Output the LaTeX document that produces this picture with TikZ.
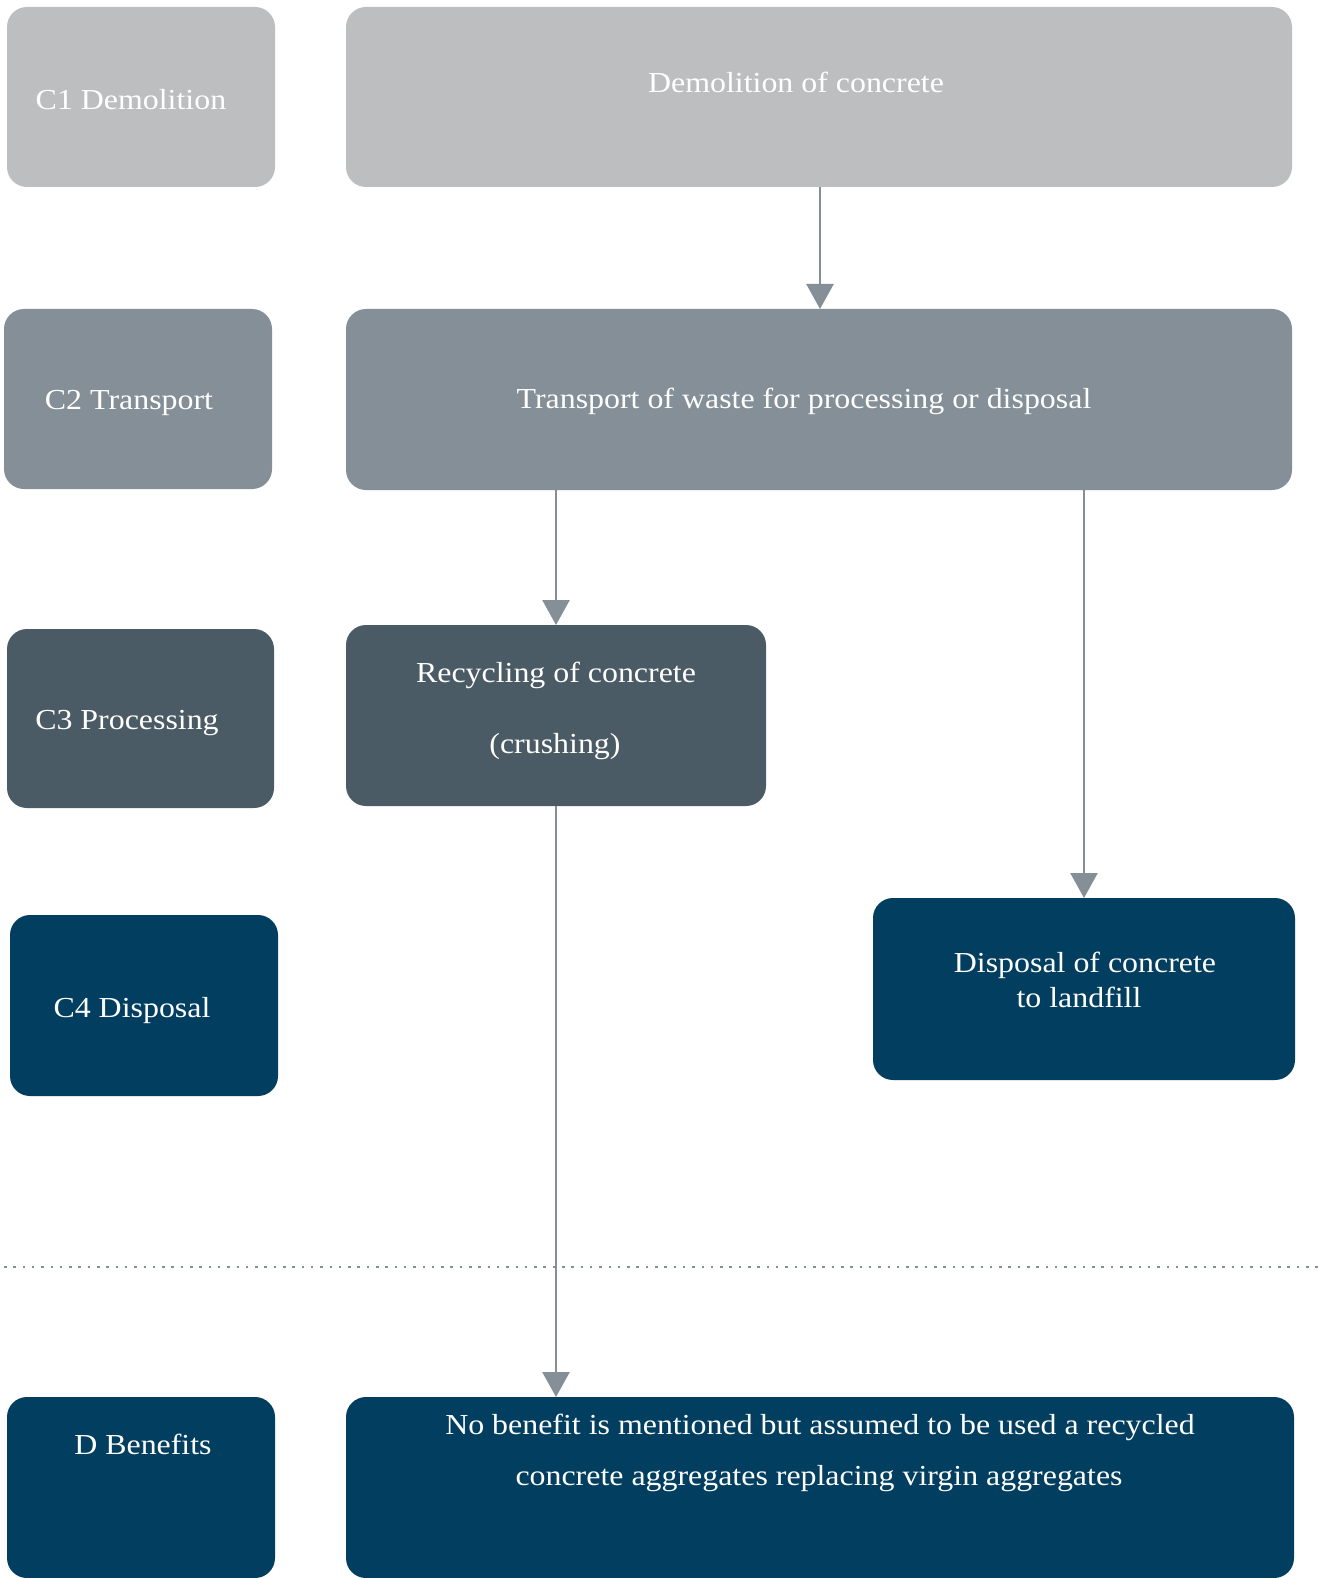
\documentclass[tikz,border=0pt]{standalone}
\usepackage{fontspec}
\setmainfont[FakeStretch=1.1]{Liberation Serif}
\usetikzlibrary{arrows.meta}
\definecolor{cone}{HTML}{BDBEC0}
\definecolor{ctwo}{HTML}{848F97}
\definecolor{cthree}{HTML}{4B5B65}
\definecolor{cfour}{HTML}{023E5F}
\definecolor{carrow}{HTML}{848F97}
\tikzset{
  box/.style={rounded corners=20pt, inner sep=0pt, outer sep=0pt},
  txt/.style={text=white, font=\fontsize{29}{35}\selectfont, inner sep=0pt, anchor=mid, yshift=-9.5pt},
  flow/.style={draw=carrow, line width=2.5pt, -{Triangle[width=27pt,length=25pt]}},
  sep/.style={draw=carrow, line width=2.5pt, dash pattern=on 2.5pt off 6.8pt}
}
\begin{document}
\begin{tikzpicture}[x=1pt,y=-1pt]
\clip (0,0) rectangle (1325,1578);
\fill[white] (0,0) rectangle (1325,1578);
% left column
\fill[cone,box] (7,7) rectangle (275,187);
\fill[ctwo,box] (4,309) rectangle (272,489);
\fill[cthree,box] (7,629) rectangle (274,808);
\fill[cfour,box] (10,915) rectangle (278,1096);
\fill[cfour,box] (7,1397) rectangle (275,1578);
\node[txt] (t1) at (131,98) {C1 Demolition};
\node[txt] (t2) at (129,398) {C2 Transport};
\node[txt] (t3) at (127,718) {C3 Processing};
\node[txt] (t4) at (132,1006) {C4 Disposal};
\node[txt] (t5) at (143,1443) {D Benefits};
% main boxes as named nodes
\node[box, fill=cone, minimum width=946pt, minimum height=180pt] (demo) at (819,97) {};
\node[box, fill=ctwo, minimum width=946pt, minimum height=181pt] (trans) at (819,399.5) {};
\node[box, fill=cthree, minimum width=420pt, minimum height=181pt] (recy) at (556,715.5) {};
\node[box, fill=cfour, minimum width=422pt, minimum height=182pt] (disp) at (1084,989) {};
\node[box, fill=cfour, minimum width=948pt, minimum height=181pt] (bene) at (820,1487.5) {};
% texts
\node[txt] (demot) at (796,80.5) {Demolition of concrete};
\node[txt] (transt) at (804,397) {Transport of waste for processing or disposal};
\node[txt] (recyt1) at (556,671) {Recycling of concrete};
\node[txt] (recyt2) at (555,742) {(crushing)};
\node[txt] (dispt1) at (1085,961) {Disposal of concrete};
\node[txt] (dispt2) at (1079,996) {to landfill};
\node[txt] (benet1) at (820,1423) {No benefit is mentioned but assumed to be used a recycled};
\node[txt] (benet2) at (819,1474) {concrete aggregates replacing virgin aggregates};
% separator
\coordinate (sa) at (4,1267);
\coordinate (sb) at (1318,1267);
\draw[sep] (sa) -- (sb);
% arrows
\draw[flow] (demo.south -| 820,0) -- (trans.north -| 820,0);
\draw[flow] (trans.south -| recy.north) -- (recy.north);
\draw[flow] (trans.south -| 1084,0) -- (disp.north -| 1084,0);
\draw[flow] (recy.south) -- (bene.north -| recy.south);
\end{tikzpicture}
\end{document}
